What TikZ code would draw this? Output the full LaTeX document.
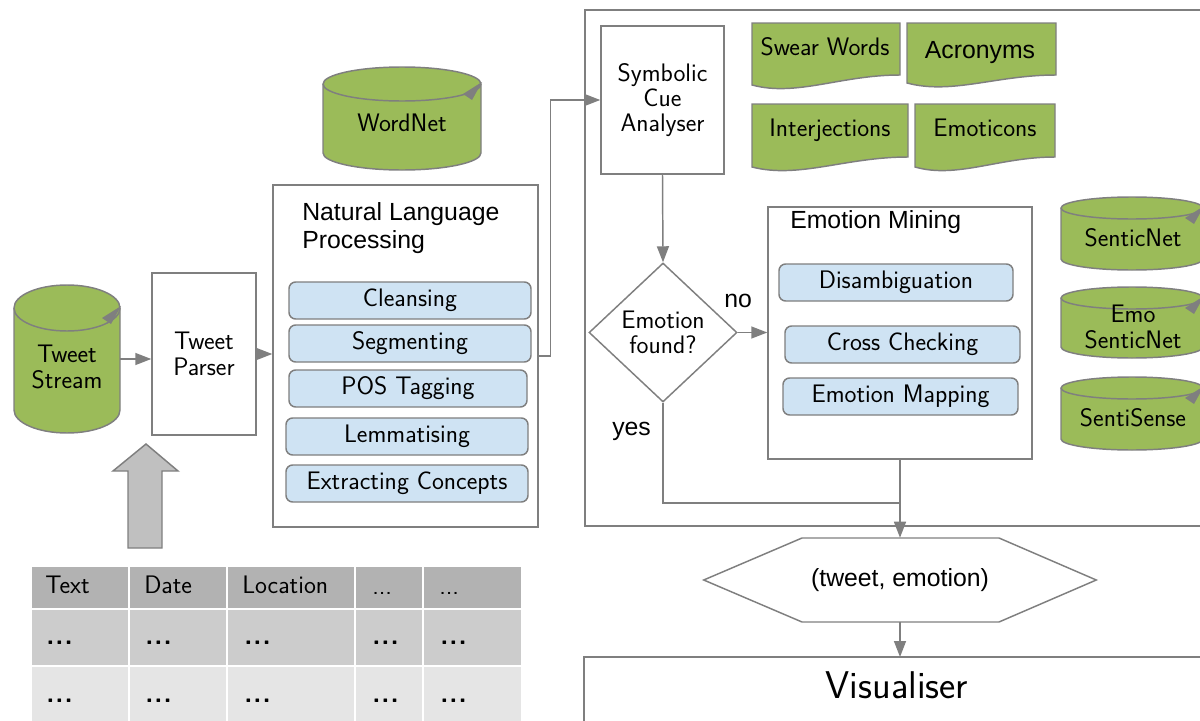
\documentclass[tikz,border=0pt]{standalone}
\usepackage{fontspec}
\newfontfamily\arialf{Liberation Sans}
\usetikzlibrary{arrows.meta,shapes.geometric}

\definecolor{edge}{HTML}{7F7F7F}
\definecolor{leaf}{HTML}{9BBB59}
\definecolor{pale}{HTML}{CFE3F3}
\definecolor{hdr}{HTML}{B2B2B2}
\definecolor{rowa}{HTML}{CCCCCC}
\definecolor{rowb}{HTML}{E5E5E5}
\definecolor{blockarrow}{HTML}{C0C0C0}

\tikzset{
  line/.style={draw=edge, line width=1.1pt},
  flow/.style={line, -{Triangle[length=12pt,width=9pt]}},
  lm/.style={font=\sffamily\fontsize{19}{19}\selectfont},
  ar/.style={font=\arialf\fontsize{18.6}{21}\selectfont},
  box/.style={line, fill=white, rectangle, inner sep=0pt},
  task/.style={line, fill=pale, rounded corners=5pt, inner sep=0pt,
               minimum height=27.75pt, lm},
  txt/.style={inner sep=0pt},
  cell/.style={txt, lm, anchor=base west},
  dots/.style={txt, anchor=base west, font=\sffamily\bfseries\fontsize{20}{20}\selectfont},
}

% database cylinder: centre x, top, bottom, x radius, y radius
\newcommand\dbcyl[5]{%
  \filldraw[line, fill=leaf] (#1-#4,#2+#5) -- (#1-#4,#3-#5)
    arc[start angle=180, end angle=0, x radius=#4, y radius=#5]
    -- (#1+#4,#2+#5)
    arc[start angle=0, end angle=-180, x radius=#4, y radius=#5] -- cycle;
  \draw[line] (#1-#4,#2+#5)
    arc[start angle=180, end angle=0, x radius=#4, y radius=#5];
  \fill[edge] (#1+#4+1,#2+#5-2) -- ++(-19,12) -- ++(9,6) -- cycle;
}

% document sheet with wavy lower edge: left, top, right, left foot, right foot
\newcommand\docshape[5]{%
  \filldraw[line, fill=leaf] (#1,#2) -- (#3,#2) -- (#3,#5)
    .. controls ({#3-0.4*(#3-#1)},#5) and ({#1+0.3*(#3-#1)},{#4+12}) .. (#1,#4)
    -- cycle;
}

\newcommand\cdotsrow{.\kern0.8pt.\kern0.8pt.}

\begin{document}
\begin{tikzpicture}[x=0.75pt, y=-0.75pt]
\useasboundingbox (0,0) rectangle (1200,721);

% ---------- input side ----------
\dbcyl{67}{285}{433}{53}{23}
\node[txt, minimum width=79.5pt, minimum height=111pt] (ts) at (67,359) {};
\node[txt, lm, align=center] (tstext) at (67,367) {Tweet\\Stream};

\node[box, minimum width=78pt, minimum height=121.5pt, lm, align=center]
  (tp) at (204,354) {Tweet\\Parser};

\dbcyl{402}{67}{170}{79}{17}
\node[txt, lm] (wn) at (402,123) {WordNet};

% ---------- natural language processing ----------
\node[box, minimum width=198.75pt, minimum height=256.5pt] (nlp) at (405.5,356) {};
\node[txt, ar, align=left, anchor=north west] (nlptitle) at (302,202)
  {Natural Language\\Processing};
\node[task, minimum width=181.5pt] (t1) at (410,300.5) {Cleansing};
\node[task, minimum width=181.5pt] (t2) at (410,343.5) {Segmenting};
\node[task, minimum width=178.5pt] (t3) at (408,388.5) {POS Tagging};
\node[task, minimum width=181.5pt] (t4) at (407,436.5) {Lemmatising};
\node[task, minimum width=181.5pt] (t5) at (407,483.5) {Extracting Concepts};

% ---------- emotion analysis frame ----------
\draw[line] (1210,10) -- (585,10) -- (585,526) -- (1210,526);

\node[box, minimum width=92.25pt, minimum height=111pt, lm, align=center]
  (sym) at (662.5,100) {Symbolic\\Cue\\Analyser};

\docshape{752}{23}{900}{85}{75}
\node[txt, lm, anchor=base] (sw) at (825,55) {Swear Words};
\docshape{907}{23}{1056}{83}{75}
\node[txt, ar, anchor=base] (ac) at (980,58) {Acronyms};
\docshape{752}{104}{908}{167}{157}
\node[txt, lm, anchor=base] (ij) at (830,136) {Interjections};
\docshape{915}{104}{1055}{167}{157}
\node[txt, lm, anchor=base] (ec) at (985,136) {Emoticons};

\node[line, diamond, fill=white, minimum width=111pt, minimum height=104.25pt,
      inner sep=0pt, aspect=1.065, lm, align=center]
  (dia) at (663,332.5) {Emotion\\found?};

\node[box, minimum width=198pt, minimum height=189pt] (em) at (900,333) {};
\node[txt, ar, anchor=base west] (emtitle) at (790,228) {Emotion Mining};
\node[task, minimum width=175.5pt] (m1) at (896,282.5) {Disambiguation};
\node[task, minimum width=176.25pt] (m2) at (902.5,344.5) {Cross Checking};
\node[task, minimum width=176.25pt] (m3) at (900.5,396.5) {Emotion Mapping};

\dbcyl{1132}{197}{270}{71}{11}
\node[txt, lm] (sn) at (1133,238) {SenticNet};
\dbcyl{1132}{287}{358}{71}{11}
\node[txt, lm, align=center] (esn) at (1133,327) {Emo\\SenticNet};
\dbcyl{1132}{377}{450}{71}{11}
\node[txt, lm] (ss) at (1133,418) {SentiSense};

\node[txt, ar, anchor=base west] (no) at (724,307) {no};
\node[txt, ar, anchor=base west] (yes) at (612,435) {yes};

% ---------- output ----------
\node[txt, ar, minimum width=294pt, minimum height=63pt] (out) at (900,580)
  {(tweet, emotion)};
\draw[line] (out.west) -- (802,538) -- (999,538) -- (out.east)
  -- (999,622) -- (802,622) -- cycle;

\draw[line] (584,730) -- (584,657) -- (1210,657);
\coordinate (vistop) at (899,657);
\node[txt, font=\sffamily\fontsize{29}{30}\selectfont, anchor=base] (vis)
  at (897,698) {Visualiser};

% ---------- tweet fields ----------
\fill[hdr] (32,567) rectangle (521,609);
\fill[rowa] (32,609) rectangle (521,666);
\fill[rowb] (32,666) rectangle (521,730);
\draw[white, line width=1.3pt] (32,609) -- (521,609) (32,666) -- (521,666)
  (129,567) -- (129,730) (227,567) -- (227,730) (355,567) -- (355,730)
  (423,567) -- (423,730);
\node[cell] at (45,593) {Text};
\node[cell] at (144,593) {Date};
\node[cell] at (242,593) {Location};
\node[cell] at (372,594) {...};
\node[cell] at (439,594) {...};
\foreach \y in {644,702}{
  \foreach \x in {46,145,244,372,440}{
    \node[dots] at (\x,\y) {\cdotsrow};
  }
}

% block arrow from the fields up to the parser
\filldraw[line, fill=blockarrow] (146,444) -- (178,471) -- (162,471) -- (162,548)
  -- (128,548) -- (128,471) -- (113,471) -- cycle;

% ---------- connectors ----------
\draw[flow] (ts.east) -- (ts.east -| tp.west);
\draw[flow] (tp.east) -- (tp.east -| nlp.west);
\draw[flow] (nlp.east) -- ++(12,0) |- (sym.west);
\draw[flow] (sym.south) -- (dia.north);
\draw[flow] (dia.east) -- (em.west |- dia.east);
\coordinate (join) at (em.south |- 0,503);
\draw[line] (dia.south) |- (join);
\draw[flow] (em.south) -- (out.north);
\draw[flow] (out.south) -- (out.south |- vistop);
\end{tikzpicture}
\end{document}
